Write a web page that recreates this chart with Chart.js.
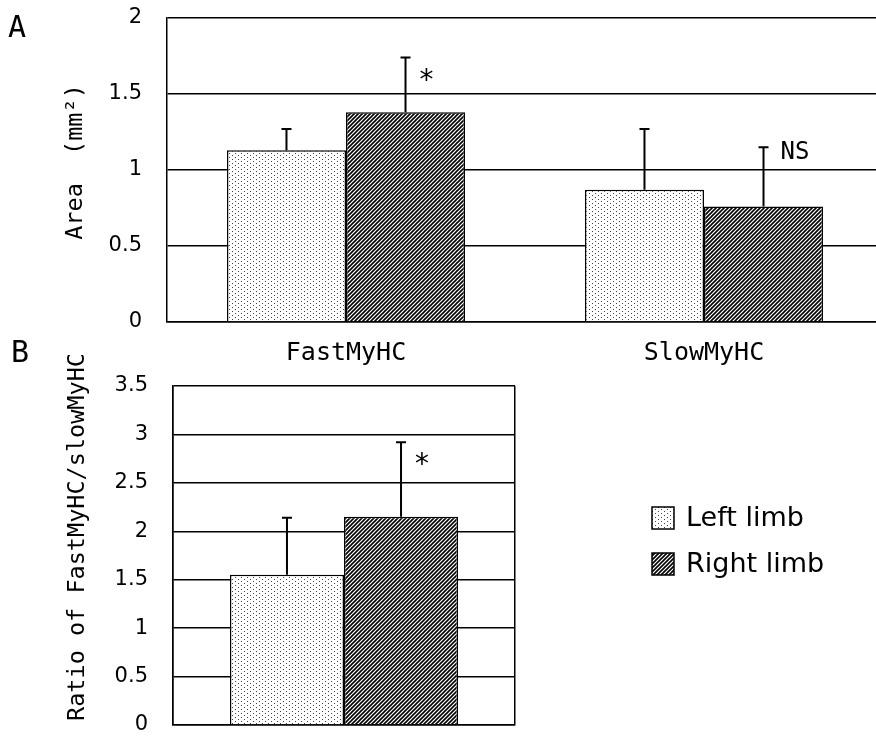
<!DOCTYPE html>
<html>
<head>
<meta charset="utf-8">
<script src="https://cdn.jsdelivr.net/npm/chart.js@4.4.1/dist/chart.umd.min.js"></script>
<style>
  html, body { margin: 0; padding: 0; background: #fff; overflow: hidden; width: 876px; height: 739px; }
  canvas { position: absolute; left: 0; }
  #chartA { top: 0; }
  #chartB { top: 340px; }
</style>
</head>
<body>
<canvas id="chartA" width="884" height="365"></canvas>
<canvas id="chartB" width="876" height="399"></canvas>
<script>
// panel A: area of each myosin type
const categoriesA = ["FastMyHC", "SlowMyHC"];
const leftA = [1.13, 0.87];
const leftAErr = [0.14, 0.40];
const rightA = [1.38, 0.76];
const rightAErr = [0.36, 0.39];
const sigA = ["*", "NS"];
const ticksA = [0, 0.5, 1, 1.5, 2];

// panel B: fast/slow ratio
const categoriesB = [""];
const leftB = [1.55];
const leftBErr = [0.59];
const rightB = [2.15];
const rightBErr = [0.77];
const sigB = ["*"];
const ticksB = [0, 0.5, 1, 1.5, 2, 2.5, 3, 3.5];

const seriesNames = ["Left limb", "Right limb"];

function dotPattern() {
  const c = document.createElement("canvas");
  c.width = 6; c.height = 4;
  const g = c.getContext("2d");
  g.fillStyle = "#fff";
  g.fillRect(0, 0, 6, 4);
  g.fillStyle = "#444";
  g.fillRect(1, 1, 1, 1);
  g.fillRect(4, 3, 1, 1);
  return g.createPattern(c, "repeat");
}

function hatchPattern() {
  const s = 4;
  const c = document.createElement("canvas");
  c.width = s; c.height = s;
  const g = c.getContext("2d");
  g.fillStyle = "#fff";
  g.fillRect(0, 0, s, s);
  g.strokeStyle = "#000";
  g.lineWidth = 1.6;
  g.beginPath();
  g.moveTo(-1, s + 1); g.lineTo(s + 1, -1);
  g.moveTo(-1, 1); g.lineTo(1, -1);
  g.moveTo(s - 1, s + 1); g.lineTo(s + 1, s - 1);
  g.stroke();
  return g.createPattern(c, "repeat");
}

const dots = dotPattern();
const hatch = hatchPattern();

const monoFont = "DejaVu Sans Mono";

// upward error bars + significance marks
const errorBars = {
  id: "errorBars",
  afterDatasetsDraw(chart) {
    const ctx = chart.ctx;
    const y = chart.scales.y;
    ctx.save();
    ctx.strokeStyle = "#000";
    ctx.lineWidth = 2;
    chart.data.datasets.forEach((ds, di) => {
      const meta = chart.getDatasetMeta(di);
      meta.data.forEach((bar, i) => {
        const top = y.getPixelForValue(ds.data[i] + ds.err[i]);
        ctx.beginPath();
        ctx.moveTo(bar.x, bar.y);
        ctx.lineTo(bar.x, top);
        ctx.moveTo(bar.x - 5, top);
        ctx.lineTo(bar.x + 5, top);
        ctx.stroke();
        if (ds.sig && ds.sig[i]) {
          ctx.fillStyle = "#000";
          ctx.textBaseline = "middle";
          if (ds.sig[i] === "*") {
            ctx.font = "28px " + monoFont;
            ctx.textAlign = "center";
            ctx.fillText("*", bar.x + 21, top + 24);
          } else {
            ctx.font = "24px " + monoFont;
            ctx.textAlign = "left";
            ctx.fillText(ds.sig[i], bar.x + 17, top + 6);
          }
        }
      });
    });
    ctx.restore();
  }
};

function sideText(chart, opts) {
  const ctx = chart.ctx;
  ctx.save();
  ctx.fillStyle = "#000";
  ctx.font = "30px " + monoFont;
  ctx.textAlign = "center";
  ctx.textBaseline = "middle";
  ctx.fillText(opts.letter, opts.letterX, opts.letterY);
  ctx.translate(opts.titleX, opts.titleY);
  ctx.rotate(-Math.PI / 2);
  ctx.font = "23.5px " + monoFont;
  ctx.fillText(opts.title, 0, 0);
  ctx.restore();
}

function noPad(s) {
  s.paddingTop = 0; s.paddingBottom = 0; s.paddingLeft = 0; s.paddingRight = 0;
}

function yAxis(max, ticksList, width) {
  return {
    min: 0,
    max: max,
    afterBuildTicks: s => { s.ticks = ticksList.map(v => ({ value: v })); },
    ticks: { color: "#000", font: { family: "DejaVu Sans", size: 21 }, padding: 25, callback: v => String(v) },
    grid: { color: "#000", lineWidth: 1.5, drawTicks: false },
    border: { color: "#000", width: 1.5 },
    afterFit: s => { s.width = width; noPad(s); }
  };
}

new Chart(document.getElementById("chartA"), {
  type: "bar",
  data: {
    labels: categoriesA,
    datasets: [
      { label: seriesNames[0], data: leftA, err: leftAErr, backgroundColor: dots, borderColor: "#000", borderWidth: 1.5 },
      { label: seriesNames[1], data: rightA, err: rightAErr, sig: sigA, backgroundColor: hatch, borderColor: "#000", borderWidth: 1.5 }
    ]
  },
  options: {
    responsive: false,
    animation: false,
    layout: { padding: { top: 18, right: 1, left: 0, bottom: 0 } },
    datasets: { bar: { categoryPercentage: 0.665, barPercentage: 1 } },
    plugins: { legend: { display: false }, tooltip: { enabled: false } },
    scales: {
      x: {
        grid: { display: false },
        border: { color: "#000", width: 1.5 },
        ticks: { color: "#000", font: { family: monoFont, size: 25 }, padding: 8 },
        afterFit: s => { s.height = 43; noPad(s); }
      },
      y: yAxis(2, ticksA, 167)
    }
  },
  plugins: [errorBars, {
    id: "sideA",
    afterDraw: chart => sideText(chart, { letter: "A", letterX: 17, letterY: 29, title: "Area  (mm²)", titleX: 76, titleY: 162 })
  }]
});

new Chart(document.getElementById("chartB"), {
  type: "bar",
  data: {
    labels: categoriesB,
    datasets: [
      { label: seriesNames[0], data: leftB, err: leftBErr, backgroundColor: dots, borderColor: "#000", borderWidth: 1.5 },
      { label: seriesNames[1], data: rightB, err: rightBErr, sig: sigB, backgroundColor: hatch, borderColor: "#000", borderWidth: 1.5 }
    ]
  },
  options: {
    responsive: false,
    animation: false,
    layout: { padding: { top: 46, right: 361, left: 0, bottom: 14 } },
    datasets: { bar: { categoryPercentage: 0.667, barPercentage: 1 } },
    plugins: { legend: { display: false }, tooltip: { enabled: false } },
    scales: {
      x: {
        grid: { color: "#000", lineWidth: 1.5, drawTicks: false },
        border: { color: "#000", width: 1.5 },
        ticks: { display: false },
        afterFit: s => { s.height = 0; noPad(s); }
      },
      y: yAxis(3.5, ticksB, 173)
    }
  },
  plugins: [errorBars, {
    id: "sideB",
    afterDraw: chart => {
      sideText(chart, { letter: "B", letterX: 20, letterY: 14, title: "Ratio of FastMyHC/slowMyHC", titleX: 78, titleY: 197 });
      // legend
      const ctx = chart.ctx;
      ctx.save();
      chart.data.datasets.forEach((ds, i) => {
        const bx = 652, by = 167 + i * 46;
        ctx.fillStyle = ds.backgroundColor;
        ctx.fillRect(bx, by, 22, 22);
        ctx.strokeStyle = "#000";
        ctx.lineWidth = 1.5;
        ctx.strokeRect(bx, by, 22, 22);
        ctx.fillStyle = "#000";
        ctx.font = "27px 'DejaVu Sans'";
        ctx.textAlign = "left";
        ctx.textBaseline = "middle";
        ctx.fillText(ds.label, 686, by + 12);
      });
      ctx.restore();
    }
  }]
});
</script>
</body>
</html>
